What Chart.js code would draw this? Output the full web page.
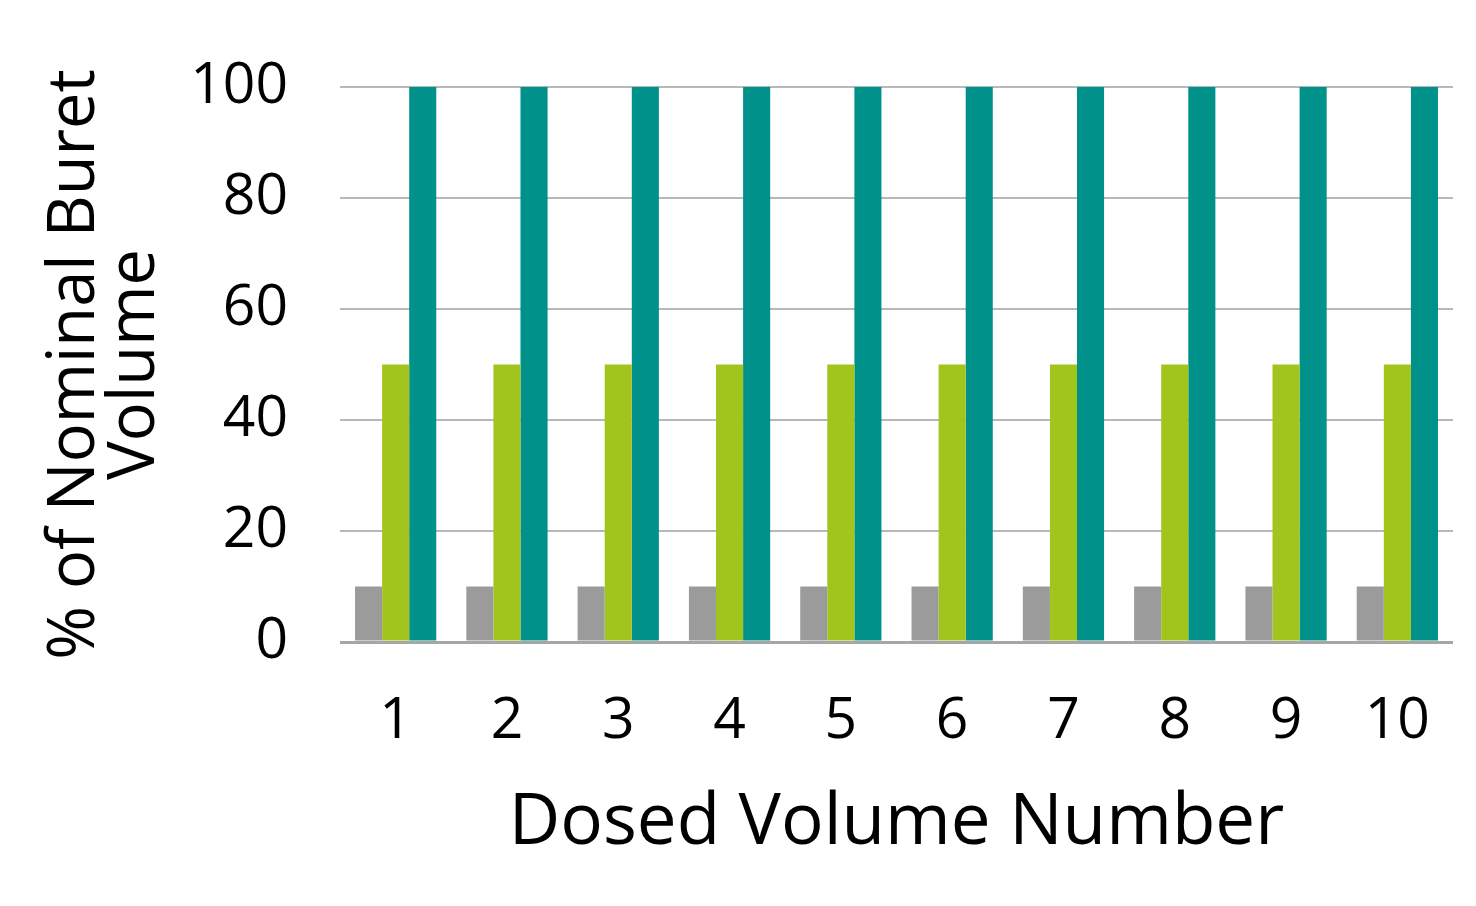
<!DOCTYPE html>
<html lang="en">
<head>
  <meta charset="UTF-8">
  <title>Dosed Volume Number</title>
  <script src="https://cdn.jsdelivr.net/npm/chart.js"></script>
  <style>
    body { margin: 0; background: #fff; }
    #wrap { width: 1476px; height: 906px; }
  </style>
</head>
<body>
<div id="wrap"><canvas id="barChart" width="1476" height="906"></canvas></div>
<script>
  const labels = ['1', '2', '3', '4', '5', '6', '7', '8', '9', '10'];
  const smallDose = [10, 10, 10, 10, 10, 10, 10, 10, 10, 10];
  const halfDose = [50, 50, 50, 50, 50, 50, 50, 50, 50, 50];
  const fullDose = [100, 100, 100, 100, 100, 100, 100, 100, 100, 100];

  const font = "'Open Sans', 'Noto Sans', sans-serif";

  new Chart(document.getElementById('barChart'), {
    type: 'bar',
    data: {
      labels: labels,
      datasets: [
        { label: '10 %', data: smallDose, backgroundColor: '#9b9b9b' },
        { label: '50 %', data: halfDose, backgroundColor: '#a1c51c' },
        { label: '100 %', data: fullDose, backgroundColor: '#00918a' }
      ]
    },
    options: {
      responsive: false,
      animation: false,
      datasets: { bar: { barPercentage: 1, categoryPercentage: 0.73 } },
      layout: { padding: { top: 87, right: 23, left: 0, bottom: 40 } },
      plugins: { legend: { display: false }, tooltip: { enabled: false } },
      scales: {
        x: {
          afterFit: s => { s.height = 224; },
          grid: { display: false },
          border: { display: false },
          ticks: { color: '#000', padding: 38, font: { family: font, size: 57 } },
          title: {
            display: true, text: 'Dosed Volume Number', color: '#000',
            font: { family: font, size: 71 }, padding: 0
          }
        },
        y: {
          min: 0, max: 100,
          afterFit: s => { s.width = 340; },
          grid: {
            drawTicks: false,
            color: ctx => ctx.tick.value === 0 ? '#a6a6a6' : '#b8b8b8',
            lineWidth: ctx => ctx.tick.value === 0 ? 3 : 2
          },
          border: { display: false },
          ticks: { stepSize: 20, color: '#000', padding: 52, font: { family: font, size: 57 } },
          title: {
            display: true, text: ['% of Nominal Buret', 'Volume'], color: '#000',
            font: { family: font, size: 65, lineHeight: 0.93 }, padding: { top: 45, bottom: 0 }
          }
        }
      }
    }
  });
</script>
</body>
</html>
